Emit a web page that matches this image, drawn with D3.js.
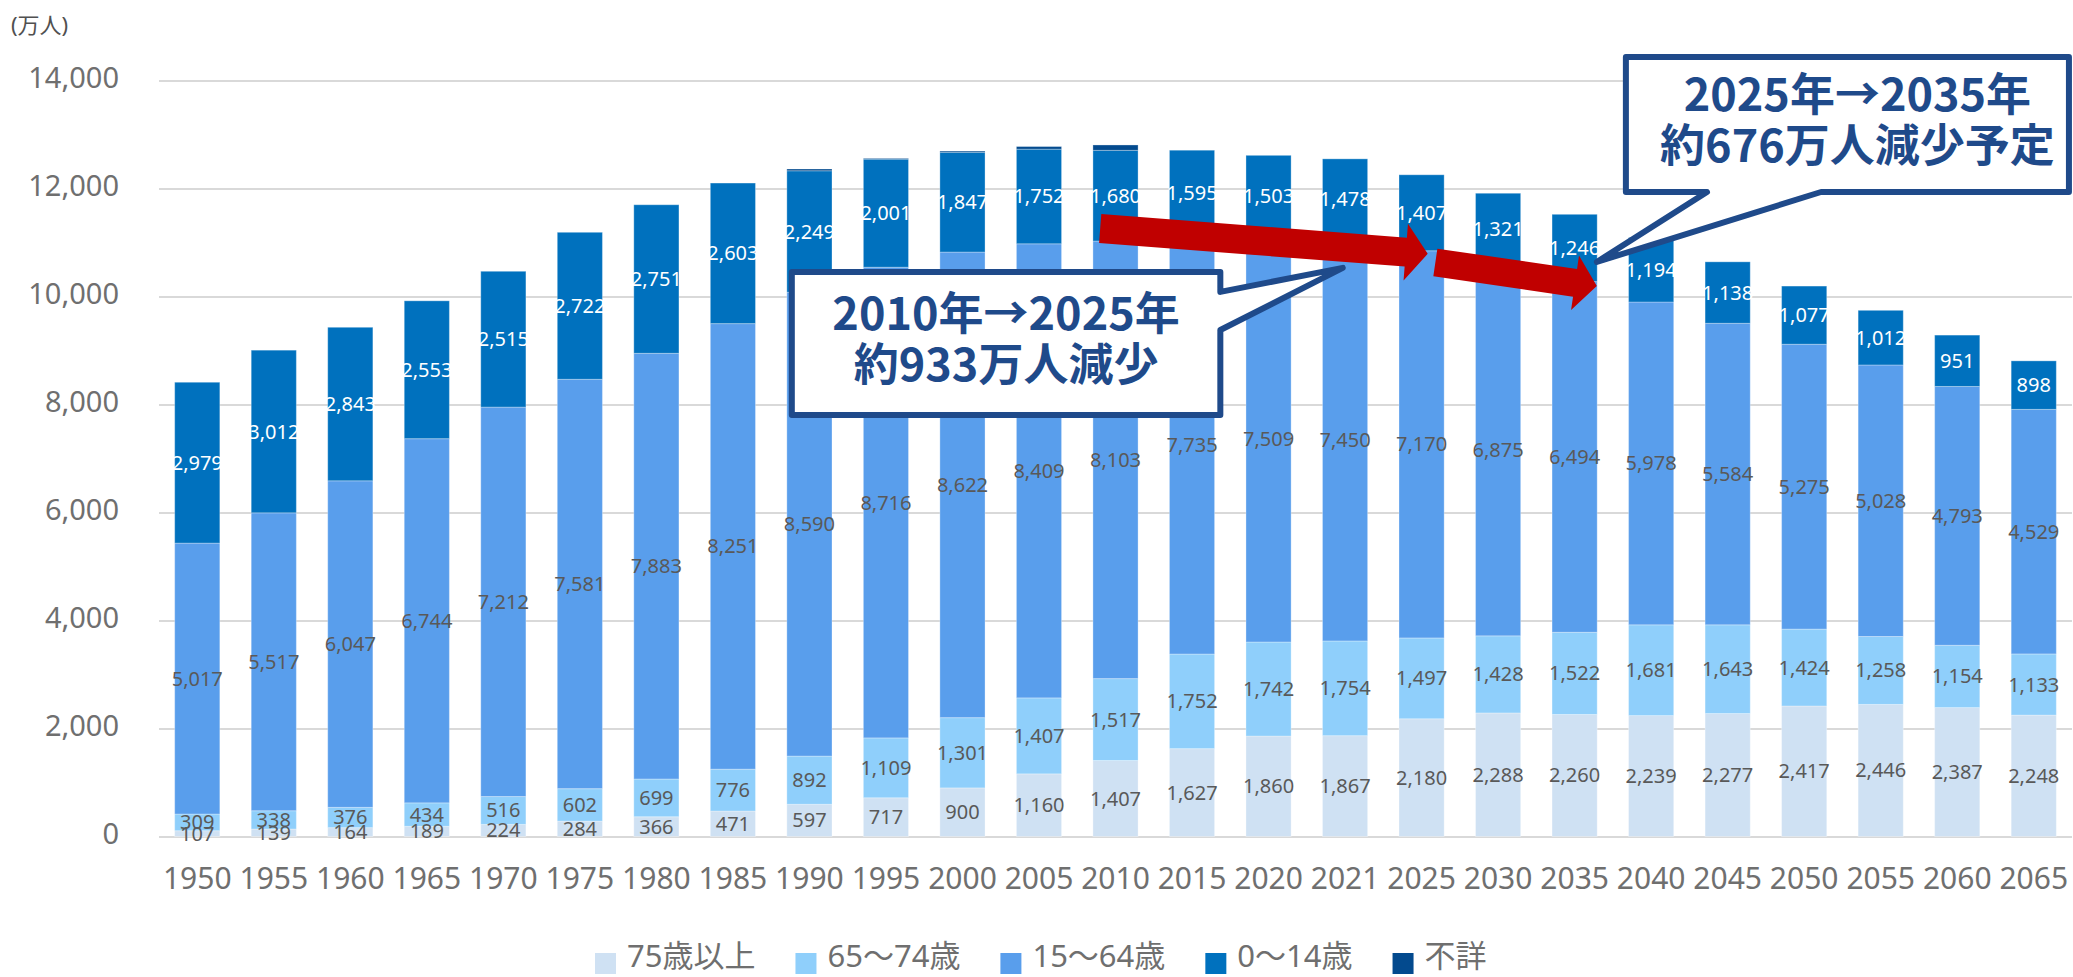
<!DOCTYPE html>
<html lang="ja">
<head>
<meta charset="utf-8">
<script src="https://cdn.jsdelivr.net/npm/d3@7"></script>
<style>
  body { margin: 0; background: #fff; }
  svg text { font-family: "Noto Sans", "Noto Sans CJK JP", sans-serif; }
  .callout text { font-family: "Noto Sans CJK JP", sans-serif; font-weight: 700; }
</style>
</head>
<body>
<div class="chart"></div>
<script>
var years = ["1950","1955","1960","1965","1970","1975","1980","1985","1990","1995",
             "2000","2005","2010","2015","2020","2021","2025","2030","2035","2040",
             "2045","2050","2055","2060","2065"];

// 万人
var age75plus = [107,139,164,189,224,284,366,471,597,717,900,1160,1407,1627,1860,1867,
                 2180,2288,2260,2239,2277,2417,2446,2387,2248];
var age65to74 = [309,338,376,434,516,602,699,776,892,1109,1301,1407,1517,1752,1742,1754,
                 1497,1428,1522,1681,1643,1424,1258,1154,1133];
var age15to64 = [5017,5517,6047,6744,7212,7581,7883,8251,8590,8716,8622,8409,8103,7735,
                 7509,7450,7170,6875,6494,5978,5584,5275,5028,4793,4529];
var age0to14 = [2979,3012,2843,2553,2515,2722,2751,2603,2249,2001,1847,1752,1680,1595,
                1503,1478,1407,1321,1246,1194,1138,1077,1012,951,898];
var unknown = [0,0,0,0,0,0,0,0,33,14,23,49,99,0,0,0,0,0,0,0,0,0,0,0,0];

var seriesKeys = ["a75","a65","a15","a0","unk"];
var seriesNames = ["75歳以上","65〜74歳","15〜64歳","0〜14歳","不詳"];
var seriesColors = ["#CFE1F3","#8FCFFB","#599EEC","#0071BE","#034A8E"];
var yTicks = [0,2000,4000,6000,8000,10000,12000,14000];

// annotations, in (bar index, value) units
var arrows = [
  {from: [12.30, 11260], to: [16.58, 10790], shaft: 29, headW: 57, headL: 22},
  {from: [16.68, 10630], to: [18.79, 10195], shaft: 28, headW: 55, headL: 22}
];
var callouts = [
  {box: [8.27, 13.87, 10455, 7805], tail: [[13.87, 10085], [15.47, 10530], [13.87, 9380]],
   lines: ["2010年→2025年", "約933万人減少"]},
  {box: [19.17, 24.96, 14435, 11935], tail: [[21.72, 11935], [18.79, 10640], [20.23, 11935]],
   lines: ["2025年→2035年", "約676万人減少予定"]}
];

var width = 2073, height = 977;
var plotLeft = 159, plotRight = 2072, plotTop = 80.5, plotBottom = 836.5;

var svg = d3.select(".chart").append("svg")
    .attr("width", width)
    .attr("height", height);

var x = d3.scaleBand()
    .domain(years)
    .range([plotLeft, plotRight])
    .paddingInner(0.41)
    .paddingOuter(0.205);

var xi = d3.scaleLinear()
    .domain([0, years.length])
    .range([plotLeft, plotRight]);

var y = d3.scaleLinear()
    .domain([0, 14000])
    .range([plotBottom, plotTop]);

// gridlines + y labels
var yAxis = d3.axisLeft(y)
    .tickValues(yTicks)
    .tickSize(-(plotRight - plotLeft))
    .tickPadding(40)
    .tickFormat(d3.format(","));

svg.append("g")
    .attr("class", "y axis")
    .attr("transform", "translate(" + plotLeft + ",0)")
    .call(yAxis)
    .call(function(g) {
      g.select(".domain").remove();
      g.selectAll("line").attr("stroke", "#D9D9D9").attr("stroke-width", 2);
      g.selectAll("text")
        .attr("dy", "0.25em")
        .attr("fill", "#6F6F6F")
        .style("font-size", "29px");
    });

var xAxis = d3.axisBottom(x)
    .tickSize(0)
    .tickPadding(31);

svg.append("g")
    .attr("class", "x axis")
    .attr("transform", "translate(0," + plotBottom + ")")
    .call(xAxis)
    .call(function(g) {
      g.select(".domain").remove();
      g.selectAll("text")
        .attr("fill", "#6F6F6F")
        .style("font-size", "30px");
    });

svg.append("text")
  .attr("x", 11)
  .attr("y", 33)
  .attr("fill", "#505050")
  .style("font-size", "22px")
  .text("(万人)");

var rows = years.map(function(yr, i) {
  return {year: yr, a75: age75plus[i], a65: age65to74[i], a15: age15to64[i],
          a0: age0to14[i], unk: unknown[i]};
});

var stacked = d3.stack().keys(seriesKeys)(rows);

var series = svg.selectAll(".series")
    .data(stacked)
  .enter().append("g")
    .attr("class", "series")
    .attr("fill", function(d, i) { return seriesColors[i]; });

series.selectAll("rect")
    .data(function(d) { return d.filter(function(p) { return p[1] - p[0] > 0; }); })
  .enter().append("rect")
    .attr("x", function(d) { return x(d.data.year); })
    .attr("y", function(d) { return y(d[1]); })
    .attr("width", x.bandwidth())
    .attr("height", function(d) { return y(d[0]) - y(d[1]); })
    .attr("stroke", "#ffffff")
    .attr("stroke-opacity", 0.3)
    .attr("stroke-width", 1);

// value labels (not for 不詳)
var fmt = d3.format(",");
svg.selectAll(".labels")
    .data(stacked.slice(0, 4))
  .enter().append("g")
    .attr("class", "labels")
    .attr("fill", function(d, i) { return i === 3 ? "#ffffff" : "#595959"; })
  .selectAll("text")
    .data(function(d) { return d; })
  .enter().append("text")
    .attr("x", function(d) { return x(d.data.year) + x.bandwidth() / 2; })
    .attr("y", function(d) { return y((d[0] + d[1]) / 2) + 7; })
    .attr("text-anchor", "middle")
    .style("font-size", "20px")
    .text(function(d) { return fmt(d[1] - d[0]); });

// red arrows
function arrowPoints(a) {
  var x1 = xi(a.from[0]), y1 = y(a.from[1]), x2 = xi(a.to[0]), y2 = y(a.to[1]);
  var len = Math.hypot(x2 - x1, y2 - y1);
  var ux = (x2 - x1) / len, uy = (y2 - y1) / len;
  var nx = -uy, ny = ux;
  var bx = x2 - ux * a.headL, by = y2 - uy * a.headL;
  var s = a.shaft / 2, h = a.headW / 2;
  return [
    [x1 + nx * s, y1 + ny * s], [bx + nx * s, by + ny * s], [bx + nx * h, by + ny * h],
    [x2, y2],
    [bx - nx * h, by - ny * h], [bx - nx * s, by - ny * s], [x1 - nx * s, y1 - ny * s]
  ];
}

svg.selectAll(".arrow")
    .data(arrows)
  .enter().append("polygon")
    .attr("class", "arrow")
    .attr("fill", "#C00000")
    .attr("points", function(d) { return arrowPoints(d).join(" "); });

// callouts
var line = d3.line();
function calloutPath(c) {
  var x0 = xi(c.box[0]), x1 = xi(c.box[1]), y0 = y(c.box[2]), y1 = y(c.box[3]);
  var t = c.tail.map(function(p) { return [xi(p[0]), y(p[1])]; });
  var pts;
  if (Math.abs(t[0][0] - x1) < 1) {
    // tail on right side
    pts = [[x0, y0], [x1, y0], t[0], t[1], t[2], [x1, y1], [x0, y1]];
  } else {
    // tail on bottom
    pts = [[x0, y0], [x1, y0], [x1, y1], t[0], t[1], t[2], [x0, y1]];
  }
  return line(pts) + "Z";
}

var co = svg.selectAll(".callout")
    .data(callouts)
  .enter().append("g")
    .attr("class", "callout");

co.append("path")
    .attr("d", calloutPath)
    .attr("fill", "#ffffff")
    .attr("stroke", "#1F4A8A")
    .attr("stroke-width", 6)
    .attr("stroke-linejoin", "round");

co.each(function(c) {
  var cx = (xi(c.box[0]) + xi(c.box[1])) / 2;
  var cy = (y(c.box[2]) + y(c.box[3])) / 2;
  d3.select(this).selectAll("text")
      .data(c.lines)
    .enter().append("text")
      .attr("x", cx + (c.box[1] > 24 ? 10 : 0))
      .attr("y", function(d, i) { return cy + (i === 0 ? -29.5 : 21.5); })
      .attr("dy", "0.36em")
      .attr("text-anchor", "middle")
      .attr("fill", "#1F4A8A")
      .style("font-size", "45px")
      .text(function(d) { return d; });
});

// legend
var legend = svg.append("g").attr("class", "legend");
var lx = 595;
seriesNames.forEach(function(name, i) {
  legend.append("rect")
    .attr("x", lx)
    .attr("y", 953)
    .attr("width", 21)
    .attr("height", 21)
    .attr("fill", seriesColors[i]);
  var t = legend.append("text")
    .attr("x", lx + 32)
    .attr("y", 967)
    .attr("fill", "#6F6F6F")
    .style("font-size", "31px")
    .text(name);
  lx += 32 + t.node().getComputedTextLength() + 40;
});
</script>
</body>
</html>
